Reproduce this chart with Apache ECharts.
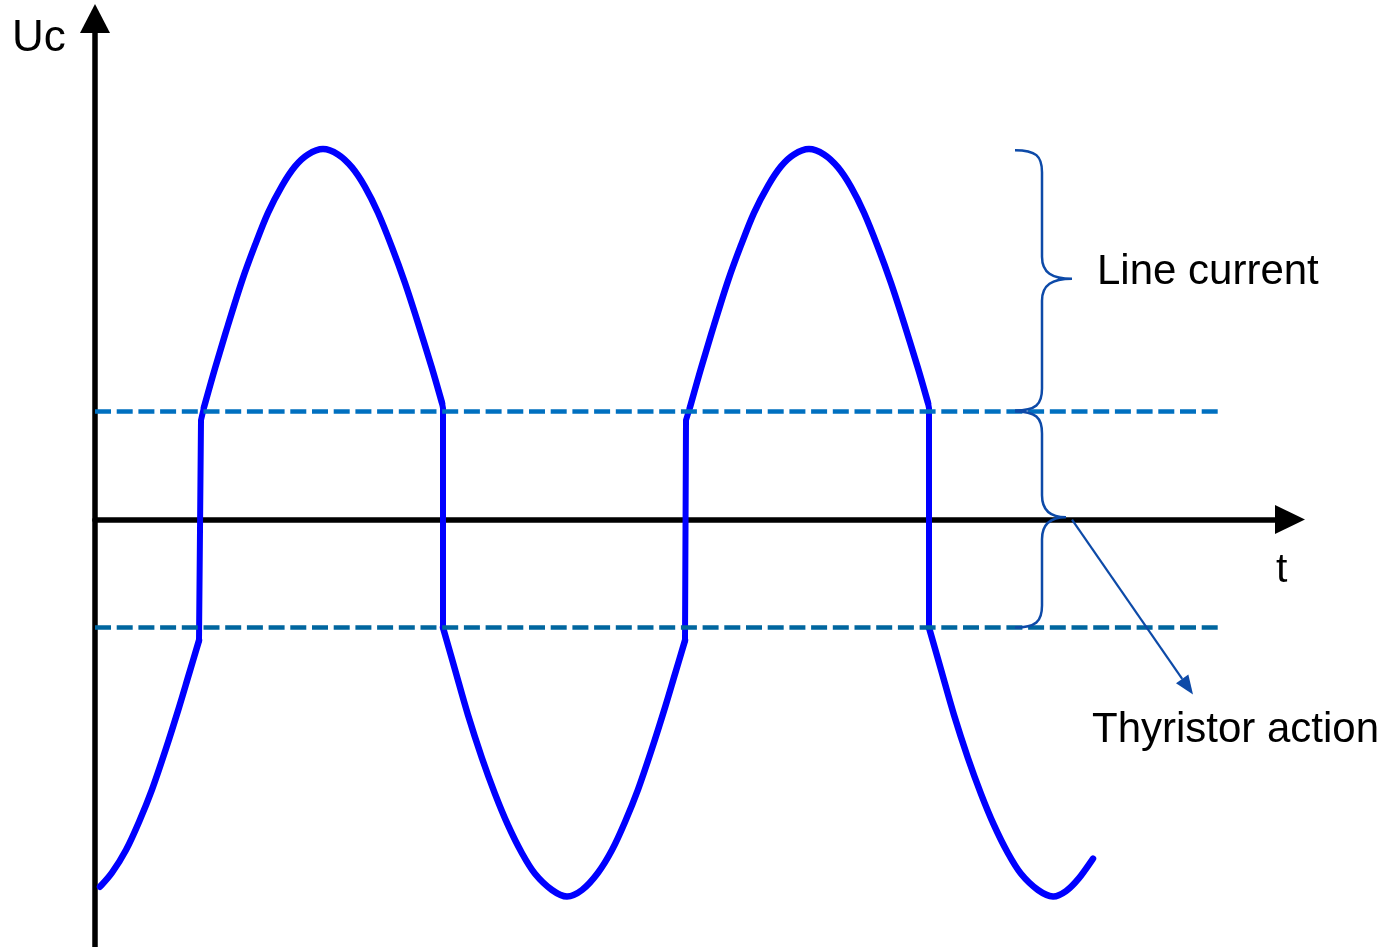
<!DOCTYPE html>
<html>
<head>
<meta charset="utf-8">
<title>Thyristor action</title>
<script src="https://cdn.jsdelivr.net/npm/echarts@6/dist/echarts.min.js"></script>
<style>
  html, body { margin: 0; padding: 0; background: #fff; }
  #chart { width: 1395px; height: 947px; }
</style>
</head>
<body>
<div id="chart"></div>
<script>
// time in arbitrary units (1 = 100px), voltage in units of the threshold level
const threshold = 1;
const thresholdEnd = 11.27;

// smooth parts of the capacitor voltage
const pieceA = [[0.05, -3.40], [0.17, -3.27], [0.31, -3.06], [0.44, -2.80], [0.57, -2.50], [0.71, -2.12], [0.84, -1.74], [0.94, -1.43], [1.04, -1.12]];
const pieceB = [[1.09, 1.04], [1.20, 1.40], [1.33, 1.80], [1.47, 2.21], [1.60, 2.54], [1.73, 2.84], [1.87, 3.09], [2.00, 3.27], [2.13, 3.38], [2.28, 3.43],
  [2.43, 3.38], [2.57, 3.26], [2.70, 3.08], [2.83, 2.84], [2.97, 2.52], [3.10, 2.19], [3.23, 1.82], [3.37, 1.40], [3.47, 1.08]];
const pieceC = [[3.48, -1.00], [3.60, -1.39], [3.73, -1.81], [3.87, -2.21], [4.00, -2.54], [4.13, -2.83], [4.27, -3.09], [4.40, -3.28], [4.57, -3.43], [4.72, -3.49],
  [4.87, -3.43], [5.03, -3.27], [5.17, -3.06], [5.30, -2.80], [5.43, -2.50], [5.57, -2.12], [5.70, -1.74], [5.80, -1.43], [5.90, -1.12]];
const pieceD = [[5.95, 1.04], [6.06, 1.40], [6.19, 1.80], [6.33, 2.21], [6.46, 2.54], [6.59, 2.84], [6.73, 3.09], [6.86, 3.27], [6.99, 3.38], [7.14, 3.43],
  [7.29, 3.38], [7.43, 3.26], [7.56, 3.08], [7.69, 2.84], [7.83, 2.52], [7.96, 2.19], [8.09, 1.82], [8.23, 1.40], [8.33, 1.08]];
const pieceE = [[8.34, -1.00], [8.46, -1.39], [8.59, -1.81], [8.73, -2.21], [8.86, -2.54], [8.99, -2.83], [9.13, -3.09], [9.26, -3.28], [9.43, -3.43], [9.58, -3.49],
  [9.71, -3.44], [9.84, -3.32], [9.98, -3.14]];
const pieces = [pieceA, pieceB, pieceC, pieceD, pieceE];

// thyristor switching jumps
const jump1 = [[1.04, -1.12], [1.06, 0.92], [1.09, 1.04]];
const jump2 = [[3.47, 1.08], [3.48, 1.03], [3.48, -1.00]];
const jump3 = [[5.90, -1.12], [5.91, 0.92], [5.95, 1.04]];
const jump4 = [[8.33, 1.08], [8.34, 1.03], [8.34, -1.00]];

// braces: [xEnd, yTop, yBottom, xSpine, xTip, yTip]
const braces = [
  [9.20, 3.42, 1.01, 9.47, 9.77, 2.23],
  [9.20, 1.00, -1.00, 9.47, 9.71, 0.02]
];
// annotation arrow: [x1, y1, x2, y2]
const pointer = [[9.77, 0.0, 10.98, -1.62]];

const chart = echarts.init(document.getElementById('chart'));
const waveColor = '#0000ff';
const noteColor = '#0d4aa8';
const font = '"Liberation Sans", Arial, sans-serif';

// catmull-rom through the read points, mapped by the axes
const waveSeries = {
  type: 'custom', data: pieces.map((_, i) => [i]), z: 3,
  renderItem: (params, api) => {
    const pts = pieces[api.value(0)].map(p => api.coord(p));
    let d = 'M ' + pts[0][0] + ' ' + pts[0][1];
    for (let i = 0; i < pts.length - 1; i++) {
      const p0 = pts[i - 1] || pts[i], p1 = pts[i], p2 = pts[i + 1], p3 = pts[i + 2] || pts[i + 1];
      const c1 = [p1[0] + (p2[0] - p0[0]) / 6, p1[1] + (p2[1] - p0[1]) / 6];
      const c2 = [p2[0] - (p3[0] - p1[0]) / 6, p2[1] - (p3[1] - p1[1]) / 6];
      d += ` C ${c1[0]} ${c1[1]} ${c2[0]} ${c2[1]} ${p2[0]} ${p2[1]}`;
    }
    return { type: 'path', shape: { pathData: d }, style: { stroke: waveColor, lineWidth: 6.5, fill: 'none', lineCap: 'round', lineJoin: 'round' } };
  }
};
const jumpSeries = [jump1, jump2, jump3, jump4].map(d => ({
  type: 'line', data: d, symbol: 'none', z: 3,
  lineStyle: { color: waveColor, width: 6, cap: 'round', join: 'round' }
}));
const dashSeries = [
  { y: threshold, color: '#0070c0' },
  { y: -threshold, color: '#00669f' }
].map(t => ({
  type: 'line', data: [[0, t.y], [thresholdEnd, t.y]], symbol: 'none', z: 4,
  lineStyle: { color: t.color, width: 4.5, type: [16, 5.7] }
}));

const braceSeries = {
  type: 'custom', data: braces, z: 5, clip: false,
  renderItem: (params, api) => {
    const top = api.coord([api.value(0), api.value(1)]);
    const bot = api.coord([api.value(0), api.value(2)]);
    const sx = api.coord([api.value(3), 0])[0];
    const tip = api.coord([api.value(4), api.value(5)]);
    const r = 22;
    const p = [
      'M', top[0], top[1],
      'C', sx - 6, top[1], sx, top[1] + 6, sx, top[1] + r,
      'L', sx, tip[1] - r,
      'C', sx, tip[1] - 6, sx + 10, tip[1], tip[0], tip[1],
      'C', sx + 10, tip[1], sx, tip[1] + 6, sx, tip[1] + r,
      'L', sx, bot[1] - r,
      'C', sx, bot[1] - 6, sx - 6, bot[1], top[0], bot[1]
    ].join(' ');
    return { type: 'path', shape: { pathData: p }, style: { stroke: noteColor, lineWidth: 2.5, fill: 'none' } };
  }
};

const pointerSeries = {
  type: 'custom', data: pointer, z: 5, clip: false,
  renderItem: (params, api) => {
    const a = api.coord([api.value(0), api.value(1)]);
    const b = api.coord([api.value(2), api.value(3)]);
    const ang = Math.atan2(b[1] - a[1], b[0] - a[0]);
    const len = 19, hw = 7.5;
    const bx = b[0] - len * Math.cos(ang), by = b[1] - len * Math.sin(ang);
    const nx = -Math.sin(ang) * hw, ny = Math.cos(ang) * hw;
    return {
      type: 'group',
      children: [
        { type: 'line', shape: { x1: a[0], y1: a[1], x2: bx, y2: by }, style: { stroke: noteColor, lineWidth: 2.2 } },
        { type: 'polygon', shape: { points: [[b[0], b[1]], [bx + nx, by + ny], [bx - nx, by - ny]] }, style: { fill: noteColor } }
      ]
    };
  }
};

const hidden = { axisTick: { show: false }, axisLabel: { show: false }, splitLine: { show: false } };

chart.setOption({
  animation: false,
  backgroundColor: '#fff',
  grid: { left: 95, right: 105, top: 18.5, bottom: 0 },
  xAxis: {
    type: 'value', min: 0, max: 11.95, ...hidden,
    axisLine: { onZero: true, symbol: ['none', 'triangle'], symbolSize: [29, 30], lineStyle: { color: '#000', width: 5.5 } }
  },
  yAxis: {
    type: 'value', min: -3.958, max: 4.639, ...hidden,
    axisLine: { onZero: true, symbol: ['none', 'triangle'], symbolSize: [30, 29], lineStyle: { color: '#000', width: 5.5 } }
  },
  graphic: [
    { type: 'text', left: 12, top: 17, style: { text: 'Uc', font: '44px ' + font, fill: '#000' } },
    { type: 'text', left: 1276, top: 550, style: { text: 't', font: '41px ' + font, fill: '#000' } },
    { type: 'text', left: 1097, top: 251, style: { text: 'Line current', font: '42px ' + font, fill: '#000' } },
    { type: 'text', left: 1092, top: 709, style: { text: 'Thyristor action', font: '42px ' + font, fill: '#000' } }
  ],
  series: [waveSeries, ...jumpSeries, ...dashSeries, braceSeries, pointerSeries]
});
</script>
</body>
</html>
